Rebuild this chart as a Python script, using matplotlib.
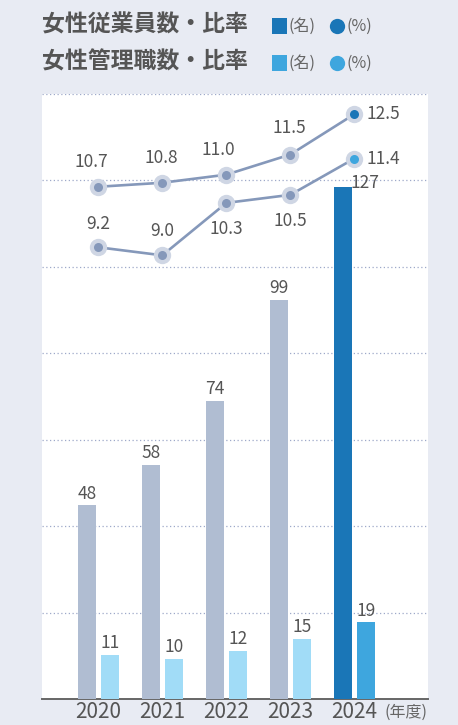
import matplotlib
matplotlib.use("Agg")
import matplotlib.pyplot as plt
from matplotlib.patches import Rectangle
from matplotlib.lines import Line2D
import numpy as np

plt.rcParams['font.family'] = ['Noto Sans CJK JP', 'DejaVu Sans']

years = ['2020', '2021', '2022', '2023', '2024']
employees = [48, 58, 74, 99, 127]
managers = [11, 10, 12, 15, 19]
emp_rate = [10.7, 10.8, 11.0, 11.5, 12.5]
mgr_rate = [9.2, 9.0, 10.3, 10.5, 11.4]

title1 = '女性従業員数・比率'
title2 = '女性管理職数・比率'
unit_count = '(名)'
unit_pct = '(%)'
unit_year = '(年度)'

BG = '#e8ebf3'
EMP = '#b0bdd2'
EMP_HI = '#1a76b7'
MGR = '#a1dcf7'
MGR_HI = '#3ea6de'
LINE = '#8598ba'
HALO = '#cfd6e4'
TXT = '#555555'
NUM_FS = 12.5

W, H = 458, 725
fig = plt.figure(figsize=(W / 100, H / 100), dpi=100, facecolor=BG)
ax = fig.add_axes([42 / W, 1 - 699 / H, (428 - 42) / W, (699 - 94) / H])
ax.set_facecolor('white')

x = np.arange(len(years))
bw = 0.29
off = 0.18
emp_colors = [EMP] * (len(years) - 1) + [EMP_HI]
mgr_colors = [MGR] * (len(years) - 1) + [MGR_HI]
ax.bar(x - off, employees, bw, color=emp_colors, zorder=3)
ax.bar(x + off, managers, bw, color=mgr_colors, zorder=3)
ax.set_ylim(0, 150)
ax.set_xlim(-0.88, 5.15)

for yv in np.linspace(0, 150, 8)[1:]:
    ax.axhline(yv, color='#9ea9c9', lw=0.9, ls=(0, (1, 2)), zorder=1)

for s in ['top', 'left', 'right']:
    ax.spines[s].set_visible(False)
ax.spines['bottom'].set_color('#666666')
ax.spines['bottom'].set_linewidth(1.4)
ax.set_yticks([])
ax.set_xticks(x)
ax.set_xticklabels(years, fontsize=15, color=TXT)
ax.tick_params(axis='x', length=0, pad=1.5)
ax.text(1.0, -0.008, unit_year, transform=ax.transAxes, ha='right', va='top',
        fontsize=11.5, color='#666666')

for i, v in enumerate(employees):
    if i == len(years) - 1:
        ax.annotate(str(v), (x[i] - off, v), xytext=(16, 3), textcoords='offset points',
                    ha='center', va='center', fontsize=NUM_FS, color=TXT, zorder=5)
    else:
        ax.annotate(str(v), (x[i] - off, v), xytext=(0, 2), textcoords='offset points',
                    ha='center', va='bottom', fontsize=NUM_FS, color=TXT, zorder=5)
for i, v in enumerate(managers):
    ax.annotate(str(v), (x[i] + off, v), xytext=(0, 2), textcoords='offset points',
                ha='center', va='bottom', fontsize=NUM_FS, color=TXT, zorder=5)

ax2 = ax.twinx()
ax2.set_ylim(-2, 13)
ax2.set_xlim(ax.get_xlim())
ax2.axis('off')

for rates, hi in [(emp_rate, EMP_HI), (mgr_rate, MGR_HI)]:
    ax2.plot(x, rates, color=LINE, lw=1.9, zorder=4)
    ax2.plot(x, rates, 'o', ms=12.5, color=HALO, mec='none', zorder=5)
    dots = [LINE] * (len(years) - 1) + [hi]
    for xi, r, c in zip(x, rates, dots):
        ax2.plot([xi], [r], 'o', ms=6.5, color=c, mec='none', zorder=6)

emp_off = [(-5, 18), (-1, 18), (-6, 18), (-1, 19), (21, 0)]
mgr_off = [(0, 17), (0, 17.5), (0, -19), (0, -19), (21, 0)]
for rates, offs in [(emp_rate, emp_off), (mgr_rate, mgr_off)]:
    for xi, r, o in zip(x, rates, offs):
        ax2.annotate(f'{r:.1f}', (xi, r), xytext=o, textcoords='offset points',
                     ha='center', va='center', fontsize=NUM_FS, color=TXT, zorder=7)

# header
fig.text(42 / W, 1 - 25 / H, title1, fontsize=16.5, fontweight='bold', color=TXT, va='center', ha='left')
fig.text(42 / W, 1 - 62 / H, title2, fontsize=16.5, fontweight='bold', color=TXT, va='center', ha='left')
for yc, col in [(26, EMP_HI), (63, MGR_HI)]:
    fig.add_artist(Rectangle((272 / W, 1 - (yc + 7.5) / H), 15 / W, 15 / H,
                             transform=fig.transFigure, color=col, lw=0))
    fig.text(289 / W, 1 - yc / H, unit_count, fontsize=11.5, color='#666666', va='center', ha='left')
    fig.add_artist(Line2D([336.5 / W], [1 - yc / H], marker='o', ms=11, color=col, mec='none',
                          transform=fig.transFigure))
    fig.text(347 / W, 1 - yc / H, unit_pct, fontsize=11.5, color='#666666', va='center', ha='left')

fig.savefig('out.png', dpi=100, facecolor=BG)
